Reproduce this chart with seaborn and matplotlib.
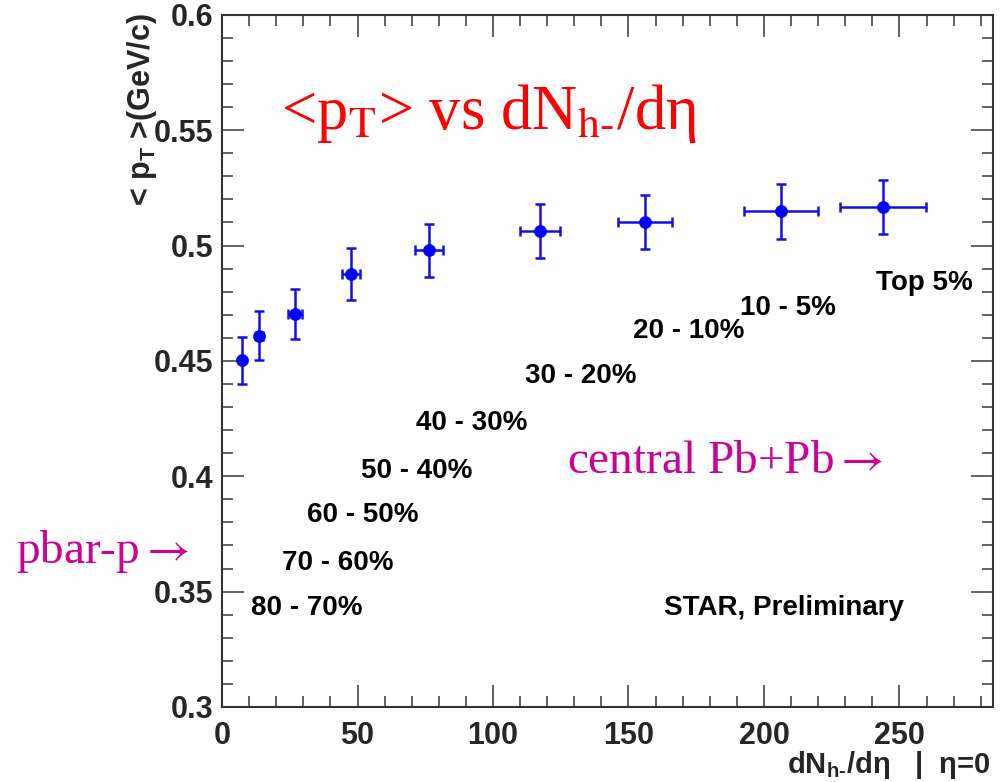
import matplotlib
matplotlib.use("Agg")
import matplotlib.pyplot as plt
import matplotlib.ticker as mticker
import seaborn as sns
import numpy as np
import pandas as pd

# ---- data ----
dndeta = [7.4, 13.8, 27.0, 47.6, 76.4, 117.3, 156.1, 206.3, 243.9]
mean_pt = [0.4502, 0.4609, 0.4704, 0.4876, 0.4979, 0.5061, 0.5104, 0.5148, 0.5166]
pt_err = [0.0102, 0.0107, 0.0108, 0.0112, 0.0116, 0.0117, 0.0117, 0.0118, 0.0118]
dndeta_err = [0.8, 1.4, 2.5, 3.4, 5.2, 7.5, 10.0, 13.5, 15.8]

centrality_labels = ["80 - 70%", "70 - 60%", "60 - 50%", "50 - 40%", "40 - 30%",
                     "30 - 20%", "20 - 10%", "10 - 5%", "Top 5%"]
label_x = [31.4, 42.6, 52.1, 71.8, 92.3, 132.3, 172.2, 209.0, 259.2]
label_y = [0.3400, 0.3593, 0.3800, 0.3994, 0.4202, 0.4403, 0.4598, 0.4699, 0.4807]

x_ticks = [0, 50, 100, 150, 200, 250]
y_ticks = [0.3, 0.35, 0.4, 0.45, 0.5, 0.55, 0.6]

df = pd.DataFrame({"dndeta": dndeta, "mean_pt": mean_pt})

sns.set_theme(style="ticks")
plt.rcParams["font.family"] = ["Liberation Sans", "DejaVu Sans"]
plt.rcParams["mathtext.fontset"] = "custom"
plt.rcParams["mathtext.rm"] = "Liberation Sans:bold"
plt.rcParams["mathtext.it"] = "Liberation Sans:bold:italic"
plt.rcParams["mathtext.bf"] = "Liberation Sans:bold"

fig = plt.figure(figsize=(10.07, 7.82), dpi=100)
fig.patch.set_facecolor("white")
ax = fig.add_axes([0.2205, 0.096, 0.7655, 0.885])
ax.set_facecolor("white")

blue = "#0000ff"
ax.errorbar(dndeta, mean_pt, xerr=dndeta_err, yerr=pt_err, fmt="none",
            ecolor="#1010e0", elinewidth=1.8, capsize=3.5, capthick=1.8, zorder=2)
sns.scatterplot(data=df, x="dndeta", y="mean_pt", ax=ax, color=blue, s=75,
                edgecolor=blue, linewidth=0.5, zorder=3, legend=False)

ax.set_xlim(0, 284.5)
ax.set_ylim(0.3, 0.6)
ax.set_xticks(x_ticks)
ax.set_yticks(y_ticks)
ax.xaxis.set_minor_locator(mticker.MultipleLocator(10))
ax.yaxis.set_minor_locator(mticker.MultipleLocator(0.01))
ax.yaxis.set_major_formatter(mticker.FuncFormatter(lambda v, p: "%g" % round(v, 3)))
ax.xaxis.set_major_formatter(mticker.FuncFormatter(lambda v, p: "%d" % v))

ax.tick_params(which="both", direction="in", top=True, right=True,
               color="#555555", width=1.3)
ax.tick_params(which="major", length=16)
ax.tick_params(which="minor", length=8)
ax.tick_params(axis="x", which="major", pad=10, labelsize=22)
ax.tick_params(axis="y", which="major", pad=6, labelsize=22)
for lab in ax.get_xticklabels() + ax.get_yticklabels():
    lab.set_fontweight("bold")
for sp in ax.spines.values():
    sp.set_color("#333333")
    sp.set_linewidth(1.5)
ax.set_xlabel("")
ax.set_ylabel("")

# axis titles (ROOT style placement)
fig.text(142 / 1007, 1 - 13 / 782, r"< p$_{\mathrm{T}}$ >(GeV/c)", rotation=90,
         ha="center", va="top", fontsize=22, fontweight="bold")
fig.text(990 / 1007, 1 - 773 / 782, r"dN$_{\mathrm{h}\text{-}}$/dη   |  η=0",
         ha="right", va="baseline", fontsize=21, fontweight="bold")

# centrality labels
for txt, lx, ly in zip(centrality_labels, label_x, label_y):
    ax.text(lx, ly, txt, ha="center", va="baseline", fontsize=20,
            fontweight="bold", color="black")
ax.text(207.4, 0.3398, "STAR, Preliminary", ha="center", va="baseline",
        fontsize=20, fontweight="bold", color="black")

# overlays
serif = ["Liberation Serif", "DejaVu Serif"]
fig.text(489 / 1007, 1 - 129 / 782, r"<p$_{\mathrm{T}}$> vs dN$_{\mathrm{h}\text{-}}$/dη",
         ha="center", va="baseline", fontsize=45, color="#ff0000",
         family=serif, math_fontfamily="stix")
fig.text(567 / 1007, 1 - 473 / 782, r"central Pb+Pb$\rightarrow$", ha="left",
         va="baseline", fontsize=34, color="#cc0099", family=serif,
         math_fontfamily="stix")
fig.text(16 / 1007, 1 - 563 / 782, r"pbar-p$\rightarrow$", ha="left", va="baseline",
         fontsize=34, color="#cc0099", family=serif, math_fontfamily="stix")

fig.savefig("out.png", dpi=100, facecolor="white")
